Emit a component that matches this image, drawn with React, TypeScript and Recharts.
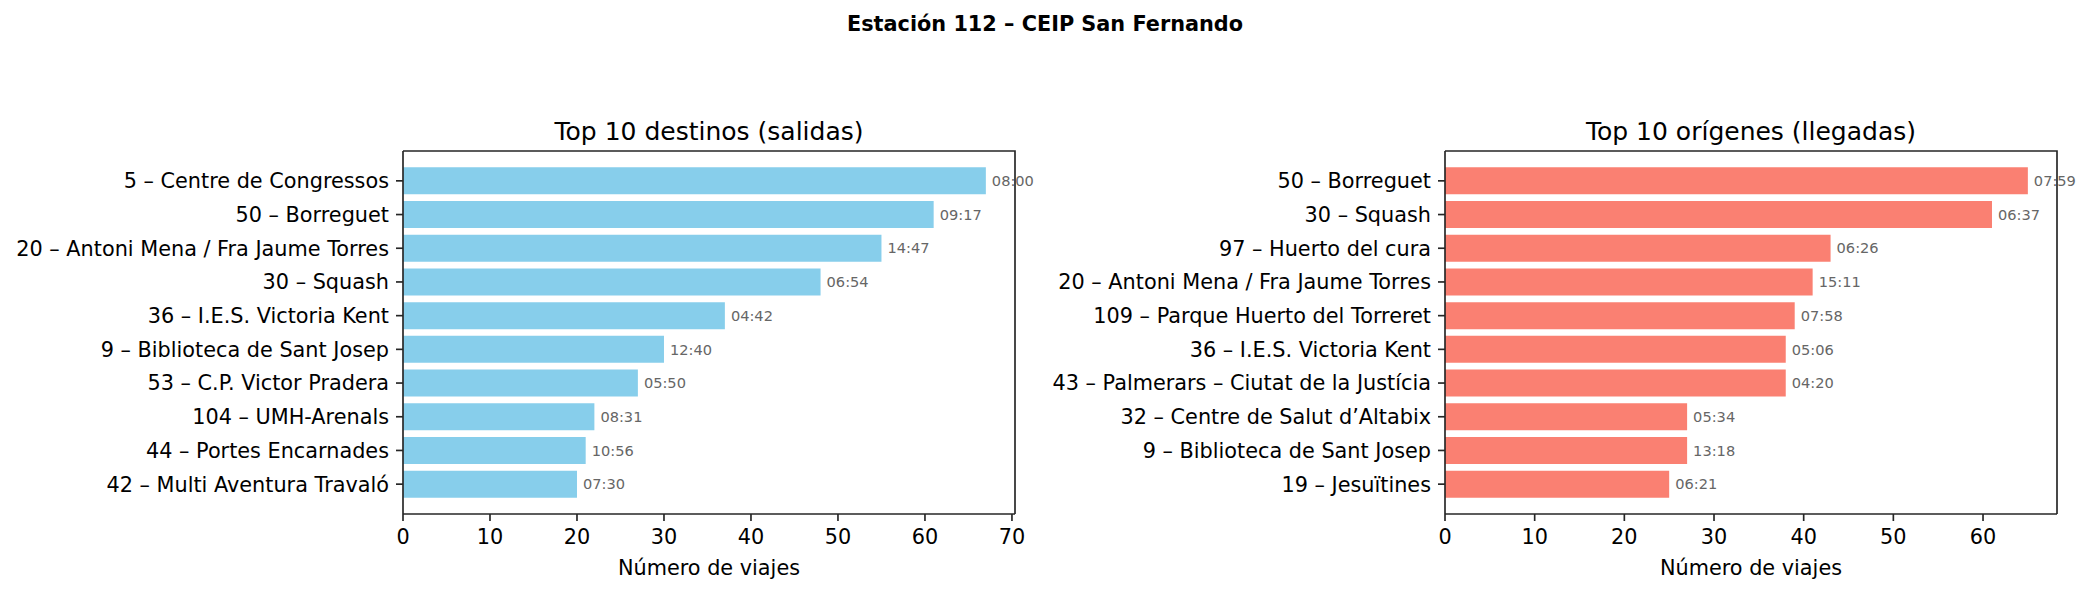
import { BarChart, Bar, XAxis, YAxis, LabelList } from 'recharts';

// Top 10 destinations (departures)
const destNames = [
  '5 – Centre de Congressos',
  '50 – Borreguet',
  '20 – Antoni Mena / Fra Jaume Torres',
  '30 – Squash',
  '36 – I.E.S. Victoria Kent',
  '9 – Biblioteca de Sant Josep',
  '53 – C.P. Victor Pradera',
  '104 – UMH-Arenals',
  '44 – Portes Encarnades',
  '42 – Multi Aventura Travaló',
];
const destTrips = [67, 61, 55, 48, 37, 30, 27, 22, 21, 20];
const destTimes = ['08:00', '09:17', '14:47', '06:54', '04:42', '12:40', '05:50', '08:31', '10:56', '07:30'];

// Top 10 origins (arrivals)
const origNames = [
  '50 – Borreguet',
  '30 – Squash',
  '97 – Huerto del cura',
  '20 – Antoni Mena / Fra Jaume Torres',
  '109 – Parque Huerto del Torreret',
  '36 – I.E.S. Victoria Kent',
  '43 – Palmerars – Ciutat de la Justícia',
  '32 – Centre de Salut d’Altabix',
  '9 – Biblioteca de Sant Josep',
  '19 – Jesuïtines',
];
const origTrips = [65, 61, 43, 41, 39, 38, 38, 27, 27, 25];
const origTimes = ['07:59', '06:37', '06:26', '15:11', '07:58', '05:06', '04:20', '05:34', '13:18', '06:21'];

const destTicks = [0, 10, 20, 30, 40, 50, 60, 70];
const origTicks = [0, 10, 20, 30, 40, 50, 60];

const FONT = '"DejaVu Sans", sans-serif';
const SPINE = '#262626';
const W = 1045;
const H = 594;
const TOP = 151;
const XAXIS_H = 80;

interface PanelProps {
  names: string[];
  trips: number[];
  times: string[];
  ticks: number[];
  color: string;
  title: string;
  left: number;
  yWidth: number;
  rightMargin: number;
}

function Panel({ names, trips, times, ticks, color, title, left, yWidth, rightMargin }: PanelProps) {
  const data = names.map((name, i) => ({ name, trips: trips[i], time: times[i] }));
  const xMax = Math.max(...trips) * 1.05;
  const plotW = W - yWidth - rightMargin;
  const plotH = H - TOP - XAXIS_H;
  const plotCenter = yWidth + plotW / 2;
  const axisLine = { stroke: SPINE, strokeWidth: 1.67 };
  const tickLine = { stroke: SPINE, strokeWidth: 1.67 };

  return (
    <div style={{ position: 'absolute', left, top: 0, width: W, height: H }}>
      <div
        style={{
          position: 'absolute',
          left: plotCenter - 300,
          width: 600,
          top: 117,
          textAlign: 'center',
          fontSize: 25,
          lineHeight: 'normal',
          whiteSpace: 'nowrap',
        }}
      >
        {title}
      </div>
      <BarChart
        width={W}
        height={H}
        data={data}
        layout="vertical"
        margin={{ top: TOP, right: rightMargin, bottom: 0, left: 0 }}
        barCategoryGap="10%"
      >
        <XAxis
          type="number"
          dataKey="trips"
          domain={[0, xMax]}
          ticks={ticks}
          height={XAXIS_H}
          tickSize={7}
          tickMargin={8}
          axisLine={axisLine}
          tickLine={tickLine}
          tick={{ fill: '#000', fontSize: 20.8, fontFamily: FONT }}
          allowDataOverflow
        />
        <YAxis
          type="category"
          dataKey="name"
          width={yWidth}
          padding={{ top: 13, bottom: 13 }}
          tickSize={7}
          tickMargin={7}
          interval={0}
          axisLine={axisLine}
          tickLine={tickLine}
          tick={{ fill: '#000', fontSize: 20.8, fontFamily: FONT }}
        />
        <Bar dataKey="trips" fill={color} isAnimationActive={false}>
          <LabelList
            dataKey="time"
            position="right"
            offset={6}
            fill="#666"
            fontSize={14.6}
            fontFamily={FONT}
          />
        </Bar>
      </BarChart>
      {/* top and right spines */}
      <svg
        width={W}
        height={H}
        style={{ position: 'absolute', left: 0, top: 0, pointerEvents: 'none' }}
      >
        <polyline
          points={`${yWidth},${TOP} ${yWidth + plotW},${TOP} ${yWidth + plotW},${TOP + plotH}`}
          fill="none"
          stroke={SPINE}
          strokeWidth={1.67}
        />
      </svg>
      <div
        style={{
          position: 'absolute',
          left: plotCenter - 300,
          width: 600,
          top: 556,
          textAlign: 'center',
          fontSize: 20.8,
          lineHeight: 'normal',
        }}
      >
        Número de viajes
      </div>
    </div>
  );
}

export default function App() {
  return (
    <div
      style={{
        position: 'relative',
        width: 2090,
        height: 594,
        background: '#fff',
        fontFamily: FONT,
        color: '#000',
      }}
    >
      <style>{'body{margin:0}'}</style>
      <div
        style={{
          position: 'absolute',
          left: 0,
          width: 2090,
          top: 12,
          textAlign: 'center',
          fontSize: 20.8,
          fontWeight: 'bold',
          lineHeight: 'normal',
        }}
      >
        Estación 112 – CEIP San Fernando
      </div>
      <Panel
        names={destNames}
        trips={destTrips}
        times={destTimes}
        ticks={destTicks}
        color="#87CEEB"
        title="Top 10 destinos (salidas)"
        left={0}
        yWidth={403}
        rightMargin={30}
      />
      <Panel
        names={origNames}
        trips={origTrips}
        times={origTimes}
        ticks={origTicks}
        color="#FA8072"
        title="Top 10 orígenes (llegadas)"
        left={1045}
        yWidth={400}
        rightMargin={33}
      />
    </div>
  );
}
